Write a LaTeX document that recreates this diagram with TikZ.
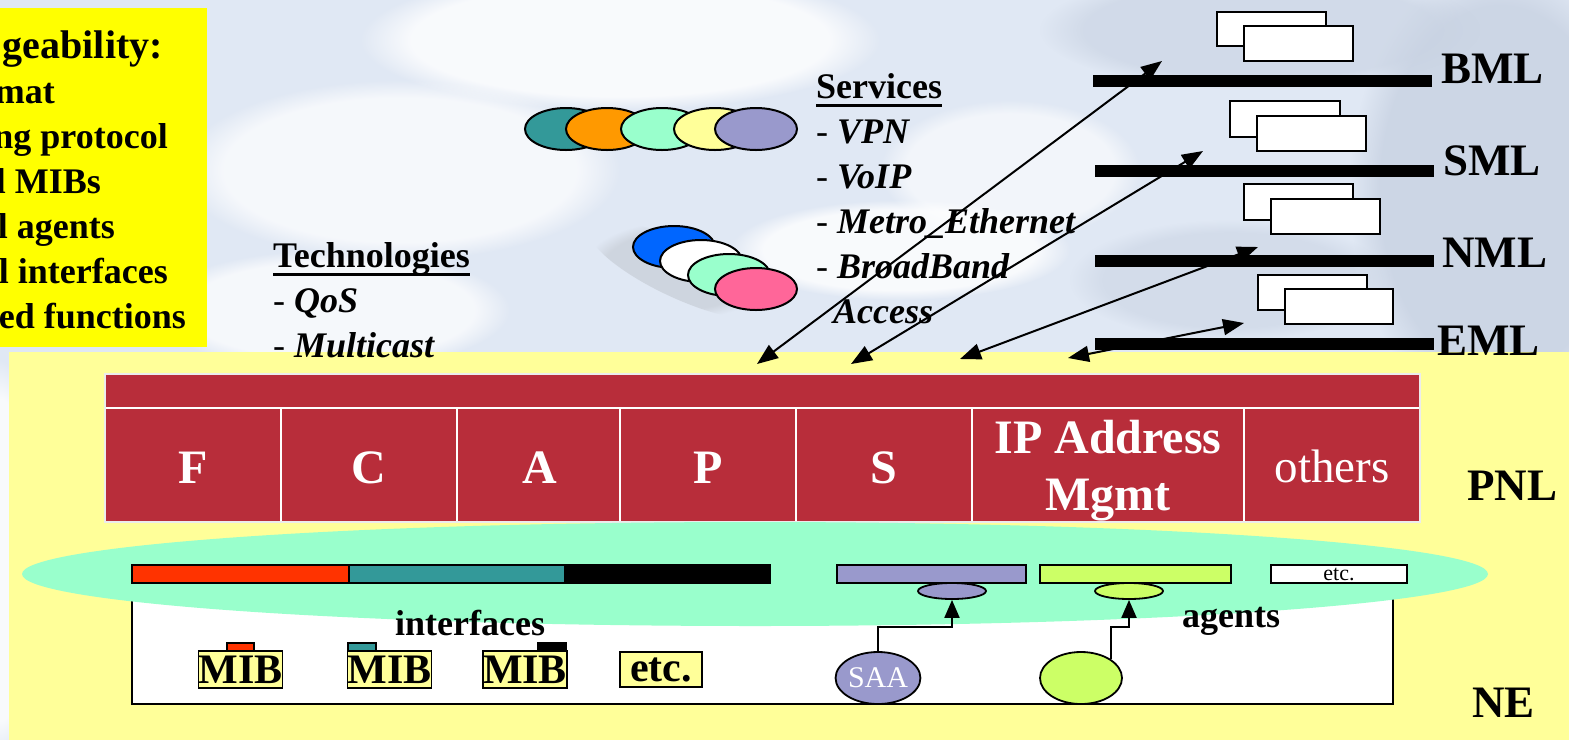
\documentclass[tikz,border=0pt]{standalone}
\usepackage{fontspec}
\setmainfont{Liberation Serif}
\usetikzlibrary{arrows.meta,fadings,shapes.geometric}

\definecolor{sky}{RGB}{224,232,244}
\definecolor{skydark}{RGB}{200,210,226}
\definecolor{paleyellow}{RGB}{255,255,153}
\definecolor{brightyellow}{RGB}{255,255,0}
\definecolor{pnlred}{RGB}{184,45,58}
\definecolor{mint}{RGB}{153,255,204}
\definecolor{tealc}{RGB}{51,153,153}
\definecolor{orangec}{RGB}{255,153,0}
\definecolor{lavender}{RGB}{153,153,204}
\definecolor{limec}{RGB}{204,255,102}
\definecolor{bluec}{RGB}{0,102,255}
\definecolor{pinkc}{RGB}{255,102,153}
\definecolor{redc}{RGB}{255,51,0}

\newcommand\setfs[1]{\fontsize{#1}{#1}\selectfont}

\tikzset{
  txt/.style={inner sep=0pt, anchor=base west},
  body/.style={txt, font=\setfs{36}\bfseries},
  level/.style={txt, font=\setfs{45}\bfseries},
  cell/.style={inner sep=0pt, anchor=base, text=white, font=\setfs{48}\bfseries},
  blob/.style={ellipse, draw=black, line width=2pt, minimum width=82pt, minimum height=42pt, inner sep=0pt},
  mgmtbox/.style={draw=black, line width=1.8pt, fill=white},
  levelbar/.style={fill=black},
  dbl/.style={{Triangle[length=21pt,width=16pt]}-{Triangle[length=21pt,width=16pt]}, line width=2pt},
  feed/.style={-{Triangle[length=18pt,width=15pt]}, line width=2pt},
  bar/.style={draw=black, line width=1.8pt},
  mibbox/.style={draw=black, line width=1.8pt, fill=paleyellow, minimum width=83pt, minimum height=37pt, inner sep=0pt, font=\setfs{42}\bfseries},
  tab/.style={draw=black, line width=1.5pt},
  agent/.style={ellipse, draw=black, line width=1.8pt, inner sep=0pt},
  fuzzy/.style={path fading=circle with fuzzy edge 20 percent}
}

\begin{document}
\begin{tikzpicture}[x=1pt,y=-1pt]
\useasboundingbox (0,0) rectangle (1569,740);

% sky background
\fill[sky] (0,0) rectangle (1569,740);
\fill[white, opacity=0.8, fuzzy] (620,40) ellipse [x radius=260, y radius=70];
\fill[white, opacity=0.7, fuzzy] (400,170) ellipse [x radius=220, y radius=90];
\fill[white, opacity=0.8, fuzzy] (900,250) ellipse [x radius=170, y radius=50];
\fill[white, opacity=0.7, fuzzy] (330,310) ellipse [x radius=180, y radius=60];
\fill[white, opacity=0.6, fuzzy] (1010,170) ellipse [x radius=130, y radius=70];
\fill[white, opacity=0.8, fuzzy] (0,560) ellipse [x radius=40, y radius=200];
\fill[skydark, opacity=0.8, fuzzy] (1500,190) ellipse [x radius=150, y radius=230];
\fill[skydark, opacity=0.6, fuzzy] (1260,30) ellipse [x radius=220, y radius=60];
\fill[skydark, opacity=0.5, fuzzy] (1230,280) ellipse [x radius=160, y radius=60];
\fill[gray, opacity=0.18, fuzzy, rotate around={-25:(680,270)}] (680,270) ellipse [x radius=100, y radius=28];

% yellow list panel
\fill[brightyellow] (0,8) rectangle (207,347);
\node[txt, anchor=base east, font=\setfs{40}\bfseries] (m0) at (163,58) {geability:};
\node[body, anchor=base east] (m1) at (55,103) {mat};
\node[body, anchor=base east] (m2) at (168,148) {ng protocol};
\node[body, anchor=base east] (m3) at (101,193) {l MIBs};
\node[body, anchor=base east] (m4) at (115,238) {l agents};
\node[body, anchor=base east] (m5) at (168,283) {l interfaces};
\node[body, anchor=base east] (m6) at (186,328) {ed functions};

% pale yellow lower region
\fill[paleyellow] (9,352) rectangle (1569,740);

% services
\node[blob, fill=tealc] (s1) at (566,129) {};
\node[blob, fill=orangec] (s2) at (607,129) {};
\node[blob, fill=mint] (s3) at (662,129) {};
\node[blob, fill=paleyellow] (s4) at (715,129) {};
\node[blob, fill=lavender] (s5) at (756,129) {};

\node[body] (srv) at (816,98) {Services};
\draw[line width=3pt] ([yshift=-7pt]srv.base west) -- ([yshift=-7pt]srv.base east);
\node[body] (srv1) at (816,143) {\mdseries-\ \bfseries\itshape VPN};
\node[body] (srv2) at (816,188) {\mdseries-\ \bfseries\itshape VoIP};
\node[body] (srv3) at (816,233) {\mdseries-\ \bfseries\itshape Metro\_Ethernet};
\node[body] (srv4) at (816,278) {\mdseries-\ \bfseries\itshape BroadBand};
\node[body] (srv5) at (833,323) {\itshape Access};

% technologies
\node[blob, fill=bluec] (t1b) at (674,247) {};
\node[blob, fill=white] (t2b) at (701,261) {};
\node[blob, fill=mint] (t3b) at (729,275) {};
\node[blob, fill=pinkc] (t4b) at (756,289) {};

\node[body] (tec) at (273,267) {Technologies};
\draw[line width=3pt] ([yshift=-7pt]tec.base west) -- ([yshift=-7pt]tec.base east);
\node[body] (tec1) at (273,312) {\mdseries-\ \bfseries\itshape QoS};
\node[body] (tec2) at (273,357) {\mdseries-\ \bfseries\itshape Multicast};

% management layers
\draw[mgmtbox] (1217,12) rectangle (1326,46);
\draw[mgmtbox] (1244,26) rectangle (1353,61);
\draw[mgmtbox] (1230,101) rectangle (1340,137);
\draw[mgmtbox] (1257,116) rectangle (1366,151);
\draw[mgmtbox] (1244,184) rectangle (1353,220);
\draw[mgmtbox] (1271,199) rectangle (1380,234);
\draw[mgmtbox] (1258,275) rectangle (1367,310);
\draw[mgmtbox] (1285,289) rectangle (1393,324);

\fill[levelbar] (1093,75) rectangle (1432,87);
\fill[levelbar] (1095,165) rectangle (1434,177);
\fill[levelbar] (1095,255) rectangle (1434,267);
\fill[levelbar] (1095,338) rectangle (1434,350);

\node[level] (bml) at (1441,83) {BML};
\node[level] (sml) at (1443,175) {SML};
\node[level] (nml) at (1442,267) {NML};
\node[level] (eml) at (1437,355) {EML};
\node[level] (pnl) at (1467,500) {PNL};
\node[level] (ne) at (1472,717) {NE};

% links between the layers and the platform
\coordinate (pb1) at (757,364);  \coordinate (pt1) at (1162,61);
\coordinate (pb2) at (851,364);  \coordinate (pt2) at (1203,151);
\coordinate (pb3) at (960,359);  \coordinate (pt3) at (1258,247);
\coordinate (pb4) at (1068,358); \coordinate (pt4) at (1244,323);
\draw[dbl] (pb1) -- (pt1);
\draw[dbl] (pb2) -- (pt2);
\draw[dbl] (pb3) -- (pt3);
\draw[dbl] (pb4) -- (pt4);

% platform block
\fill[pnlred] (105,374) rectangle (1420,522);
\draw[white, line width=2pt] (105,408) -- (1420,408);
\foreach \xx in {281,457,620,796,972,1244}
  \draw[white, line width=2pt] (\xx,408) -- (\xx,522);
\draw[white!85!gray, line width=1.5pt] (105,374) rectangle (1420,522);

\node[cell] (cf) at (193,483) {F};
\node[cell] (cc) at (369,483) {C};
\node[cell] (ca) at (540,483) {A};
\node[cell] (cp) at (708,483) {P};
\node[cell] (cs) at (884,483) {S};
\node[cell] (cip) at (1108,453) {IP Address};
\node[cell] (cmg) at (1108,510) {Mgmt};
\node[cell, font=\setfs{47}] (cot) at (1332,482) {others};

% network element
\draw[line width=1.8pt, fill=white] (132,590) rectangle (1393,704);
\fill[mint] (755,574) ellipse [x radius=733, y radius=52];

\draw[bar, fill=redc] (132,565) rectangle (349,583);
\draw[bar, fill=tealc] (349,565) rectangle (565,583);
\draw[bar, fill=black] (565,565) rectangle (770,583);
\draw[bar, fill=lavender] (837,565) rectangle (1026,583);
\draw[bar, fill=limec] (1040,565) rectangle (1231,583);
\node[bar, fill=white, minimum width=136pt, minimum height=18pt, inner sep=0pt, font=\setfs{22}] (etcbar) at (1339,574) {etc.};

\node[agent, fill=lavender, minimum width=68pt, minimum height=16pt] (sagent) at (952,591) {};
\node[agent, fill=limec, minimum width=68pt, minimum height=16pt] (lagent) at (1129,591) {};

\node[body] (intf) at (395,635) {interfaces};
\node[body] (agt) at (1182,627) {agents};

\draw[tab, fill=redc] (227,643) rectangle (254,652);
\draw[tab, fill=tealc] (348,643) rectangle (376,652);
\draw[tab, fill=black] (538,643) rectangle (566,652);
\node[mibbox] (mib1) at (240.5,669.5) {MIB};
\node[mibbox] (mib2) at (389.5,669.5) {MIB};
\node[mibbox] (mib3) at (525,669.5) {MIB};
\node[mibbox, minimum width=82pt, minimum height=35pt] (etcmib) at (661,669.5) {etc.};

\node[agent, fill=lavender, minimum width=82pt, minimum height=52pt, text=white, font=\setfs{30}] (saa) at (878,678) {SAA};
\node[agent, fill=limec, minimum width=82pt, minimum height=52pt] (lne) at (1081,678) {};

\draw[feed] (saa.north) |- ([yshift=-27pt]sagent.south) -- (sagent.south);
\draw[feed] (lne.north east) |- ([yshift=-27pt]lagent.south) -- (lagent.south);
\end{tikzpicture}
\end{document}
